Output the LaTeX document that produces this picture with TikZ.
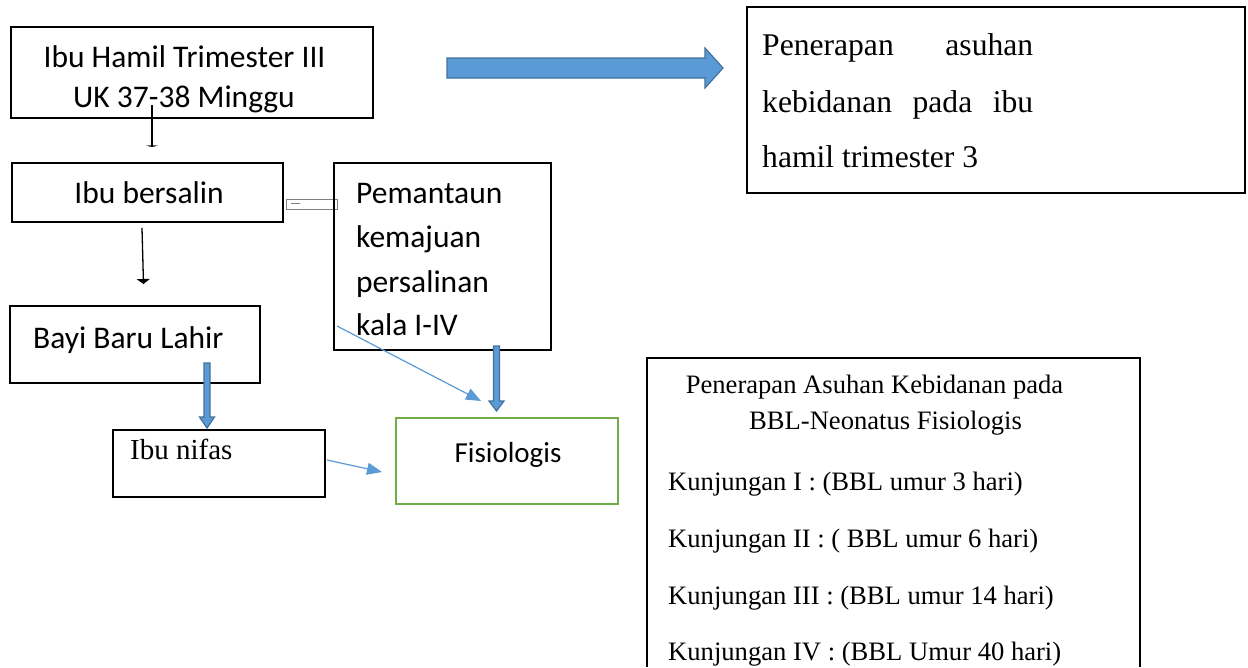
\documentclass[tikz,border=0pt]{standalone}
\usepackage{fontspec}
\setmainfont{Liberation Serif}
\newfontfamily\calfont{Carlito}
\usetikzlibrary{arrows.meta}
\definecolor{bfill}{HTML}{5B9BD5}
\definecolor{bline}{HTML}{41719C}
\definecolor{gbox}{HTML}{70AD47}
\definecolor{gline}{HTML}{808080}
\tikzset{
 box/.style={draw=black, line width=1.6pt, anchor=north west, inner sep=0pt, outer sep=0pt},
 cal/.style={font=\calfont\fontsize{31.5}{38}\selectfont, inner sep=0pt},
 calsm/.style={font=\calfont\fontsize{29}{35}\selectfont, inner sep=0pt},
 tnr/.style={font=\fontsize{31.6}{38}\selectfont, inner sep=0pt},
 tnrm/.style={font=\fontsize{29}{35}\selectfont, inner sep=0pt},
 tnrs/.style={font=\fontsize{26.6}{32}\selectfont, inner sep=0pt},
 thinarrow/.style={draw=bfill, line width=1.2pt, -{Triangle[width=12pt,length=15pt]}},
 blockarrow/.style={fill=bfill, draw=bline, line width=1.2pt, line join=miter},
 blackarrow/.style={draw=black, line width=1.3pt},
}
\begin{document}
\begin{tikzpicture}[x=1pt,y=-1pt]
\useasboundingbox (0,0) rectangle (1248,667);
\fill[white] (0,0) rectangle (1248,667);

% boxes
\node[box, minimum width=362pt, minimum height=91pt] (b1) at (11,27) {};
\node[box, minimum width=271pt, minimum height=59pt] (b2) at (12,163) {};
\draw[gline, line width=1pt, fill=white] (286,199) rectangle (337,209);
\draw[gline, line width=1.5pt] (291,203.5) -- (300,203.5);
\node[box, minimum width=217pt, minimum height=187pt] (b3) at (334,163) {};
\node[box, minimum width=250pt, minimum height=77pt] (b4) at (10,306) {};
\node[box, minimum width=212pt, minimum height=67pt] (b5) at (113,430) {};
\node[box, draw=gbox, line width=2.2pt, minimum width=222pt, minimum height=86pt] (b6) at (396,418) {};
\node[box, minimum width=498pt, minimum height=186pt] (b7) at (747,7) {};
\draw[black, line width=1.5pt] (647,667) -- (647,358) -- (1140,358) -- (1140,667);

% texts
\node[cal, anchor=base] (t1a) at (184.5,67) {Ibu Hamil Trimester III};
\node[cal, anchor=base] (t1b) at (184,107) {UK 37-38 Minggu};
\node[cal, anchor=base] (t2) at (149,203) {Ibu bersalin};
\node[cal, anchor=base west] (t3a) at (356,203) {Pemantaun};
\node[cal, anchor=base west] (t3b) at (356,247) {kemajuan};
\node[cal, anchor=base west] (t3c) at (356,292) {persalinan};
\node[cal, anchor=base west] (t3d) at (356,335) {kala I-IV};
\node[cal, anchor=base west] (t4) at (33,348) {Bayi Baru Lahir};
\node[tnrm, anchor=base west] (t5) at (130,459) {Ibu nifas};
\node[calsm, anchor=base] (t6) at (508,462) {Fisiologis};
\node[tnr, anchor=base west] (t7a) at (762,55) {\hbox to 271pt{Penerapan\hfill asuhan}};
\node[tnr, anchor=base west] (t7b) at (762,112) {\hbox to 271pt{kebidanan\hfill pada\hfill ibu}};
\node[tnr, anchor=base west] (t7c) at (762,167) {hamil trimester 3};
\node[tnrs, anchor=base] (t8a) at (874.5,393) {Penerapan Asuhan Kebidanan pada};
\node[tnrs, anchor=base] (t8b) at (885.5,429) {BBL-Neonatus Fisiologis};
\node[tnrs, anchor=base west] (t8c) at (668,490) {Kunjungan I : (BBL umur 3 hari)};
\node[tnrs, anchor=base west] (t8d) at (668,547) {Kunjungan II : ( BBL umur 6 hari)};
\node[tnrs, anchor=base west] (t8e) at (668,604) {Kunjungan III : (BBL umur 14 hari)};
\node[tnrs, anchor=base west] (t8f) at (668,660) {Kunjungan IV : (BBL Umur 40 hari)};

% black connectors
\coordinate (c1s) at (152,105);
\coordinate (c1e) at (152,147);
\draw[blackarrow, -{Triangle[width=12pt,length=1.5pt]}] (c1s) -- (c1e);
\coordinate (c2s) at (142,228);
\coordinate (c2e) at (143.5,284);
\draw[blackarrow, -{Triangle[width=13pt,length=5pt]}] (c2s) -- (c2e);

% thin blue connectors
\coordinate (c3s) at (337,326);
\coordinate (c3e) at (481,401);
\draw[thinarrow] (c3s) -- (c3e);
\coordinate (c4s) at (327,460);
\coordinate (c4e) at (382,472);
\draw[thinarrow] (c4s) -- (c4e);

% block arrows
\draw[blockarrow] (447,58) -- (705,58) -- (705,48) -- (723,68) -- (705,88) -- (705,78) -- (447,78) -- cycle;
\draw[blockarrow] (204,363) -- (210,363) -- (210,417) -- (214.5,417) -- (207,428) -- (199.5,417) -- (204,417) -- cycle;
\draw[blockarrow] (493.5,346) -- (499.5,346) -- (499.5,401) -- (504,401) -- (496.5,411) -- (489,401) -- (493.5,401) -- cycle;
\end{tikzpicture}
\end{document}
